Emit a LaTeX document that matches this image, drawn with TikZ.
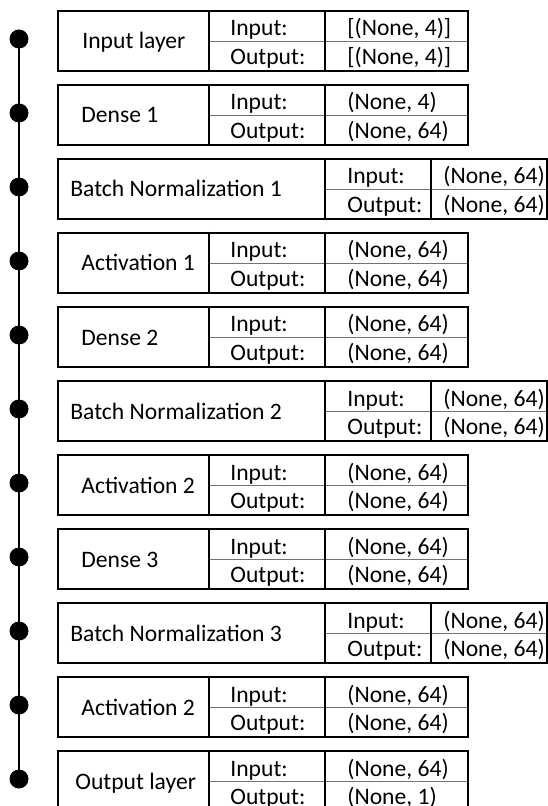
\documentclass[tikz,border=0pt]{standalone}
\usepackage{fontspec}
\setmainfont{Carlito}
\usepackage{tikz}

\begin{document}
\begin{tikzpicture}[x=0.5pt, y=-0.5pt,
  lay/.style={draw, line width=1pt, minimum height=30pt, inner sep=0pt, anchor=north west},
  sep/.style={line width=0.8pt},
  mid/.style={line width=0.5pt, black!55},
  txt/.style={anchor=base west, inner sep=0pt, font=\fontsize{11.8}{13}\selectfont},
  dot/.style={circle, fill, minimum size=9.5pt, inner sep=0pt}]
\useasboundingbox (0,0) rectangle (547,806);
% plain layers
\foreach \i/\nx/\name/\vin/\vout in {0/82/{Input layer}/{[(None, 4)]}/{[(None, 4)]},
    1/81/{Dense 1}/{(None, 4)}/{(None, 64)},
    3/81/{Activation 1}/{(None, 64)}/{(None, 64)},
    4/81/{Dense 2}/{(None, 64)}/{(None, 64)},
    6/81/{Activation 2}/{(None, 64)}/{(None, 64)},
    7/81/{Dense 3}/{(None, 64)}/{(None, 64)},
    9/81/{Activation 2}/{(None, 64)}/{(None, 64)},
    10/75/{Output layer}/{(None, 64)}/{(None, 1)}}{
  \pgfmathsetmacro\t{10+74*\i}
  \node[lay, minimum width=205pt] (box\i) at (57,\t) {};
  \draw[mid] (209,{\t+31.5}) -- (467,{\t+31.5});
  \draw[sep] (209,\t) -- ++(0,60) (325,\t) -- ++(0,60);
  \node[txt] (nm\i) at (\nx,{\t+39}) {\name};
  \node[txt] (in\i) at (230,{\t+26}) {Input:};
  \node[txt] (out\i) at (230,{\t+54.5}) {Output:};
  \node[txt] (vi\i) at (347,{\t+26}) {\vin};
  \node[txt] (vo\i) at (347,{\t+54.5}) {\vout};
  \node[dot] (d\i) at (19,{\t+29}) {};
}
% batch norm layers
\foreach \i/\k in {2/1, 5/2, 8/3}{
  \pgfmathsetmacro\t{10+74*\i}
  \node[lay, minimum width=244.25pt] (box\i) at (57,\t) {};
  \draw[mid] (325,{\t+31.5}) -- (545.5,{\t+31.5});
  \draw[sep] (325,\t) -- ++(0,60) (431,\t) -- ++(0,60);
  \node[txt] (nm\i) at (70,{\t+39}) {Batch Normalization \k};
  \node[txt] (in\i) at (347,{\t+26}) {Input:};
  \node[txt] (out\i) at (347,{\t+54.5}) {Output:};
  \node[txt] (vi\i) at (443,{\t+26}) {(None, 64)};
  \node[txt] (vo\i) at (443,{\t+54.5}) {(None, 64)};
  \node[dot] (d\i) at (19,{\t+29}) {};
}
\draw[line width=1pt] (d0.center) -- (d10.center);
\end{tikzpicture}
\end{document}
